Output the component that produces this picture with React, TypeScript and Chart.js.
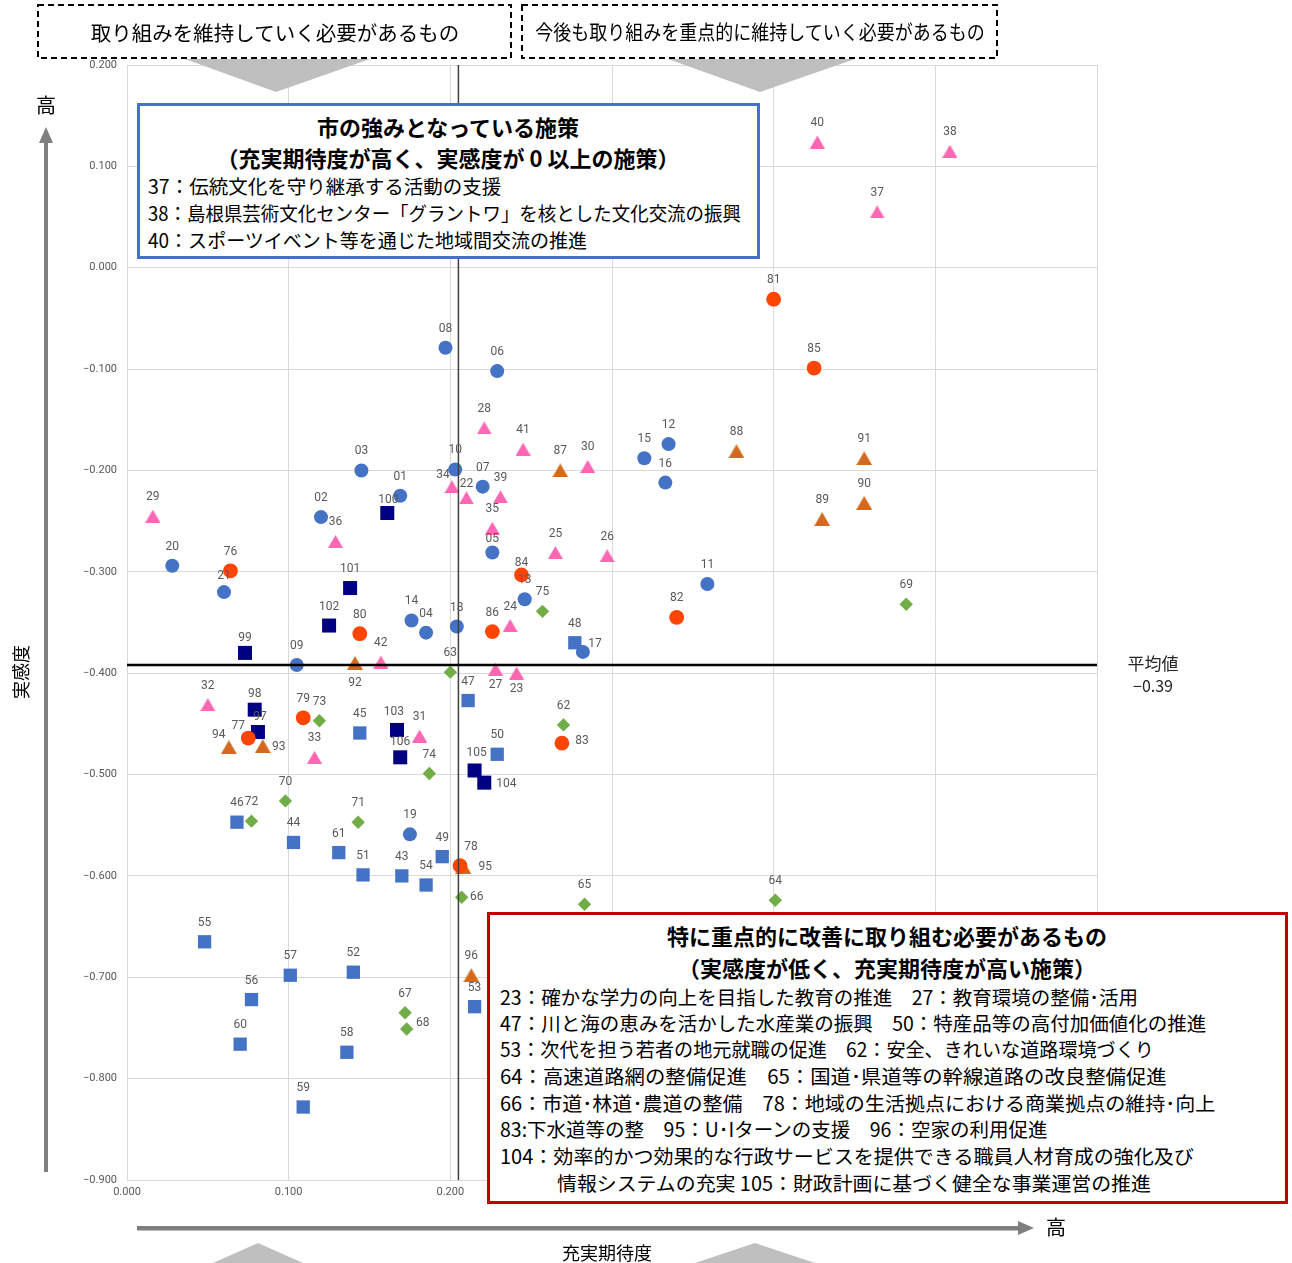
import React, { useEffect, useLayoutEffect, useRef } from 'react';
import { Chart, registerables } from 'chart.js';

Chart.register(...registerables);

// ---------- data ----------
const blueCircleIds = ['01','02','03','04','05','06','07','08','09','10','11','12','13','14','15','16','17','18','19','20','21'];
const blueCircleX = [0.169,0.120,0.145,0.185,0.226,0.229,0.220,0.197,0.105,0.203,0.359,0.335,0.246,0.176,0.320,0.333,0.282,0.204,0.175,0.028,0.060];
const blueCircleY = [-0.225,-0.246,-0.200,-0.360,-0.281,-0.102,-0.216,-0.079,-0.392,-0.199,-0.312,-0.174,-0.327,-0.348,-0.188,-0.212,-0.379,-0.354,-0.559,-0.294,-0.320];

const pinkTriIds = ['22','23','24','25','26','27','28','29','30','31','32','33','34','35','36','37','38','39','40','41','42'];
const pinkTriX = [0.210,0.241,0.237,0.265,0.297,0.228,0.221,0.016,0.285,0.181,0.050,0.116,0.201,0.226,0.129,0.464,0.509,0.231,0.427,0.245,0.157];
const pinkTriY = [-0.227,-0.400,-0.353,-0.281,-0.284,-0.396,-0.158,-0.245,-0.196,-0.462,-0.431,-0.483,-0.216,-0.257,-0.270,0.055,0.115,-0.226,0.124,-0.179,-0.389];

const blueSqIds = ['43','44','45','46','47','48','49','50','51','52','53','54','55','56','57','58','59','60','61'];
const blueSqX = [0.170,0.103,0.144,0.068,0.211,0.277,0.195,0.229,0.146,0.140,0.215,0.185,0.048,0.077,0.101,0.136,0.109,0.070,0.131];
const blueSqY = [-0.600,-0.567,-0.459,-0.547,-0.427,-0.370,-0.581,-0.480,-0.599,-0.695,-0.729,-0.609,-0.665,-0.722,-0.698,-0.774,-0.828,-0.766,-0.577];

const greenDiaIds = ['62','63','64','65','66','67','68','69','70','71','72','73','74','75'];
const greenDiaX = [0.270,0.200,0.401,0.283,0.207,0.172,0.173,0.482,0.098,0.143,0.077,0.119,0.187,0.257];
const greenDiaY = [-0.451,-0.399,-0.624,-0.628,-0.621,-0.735,-0.751,-0.332,-0.526,-0.547,-0.546,-0.447,-0.499,-0.339];

const redCircleIds = ['76','77','78','79','80','81','82','83','84','85','86'];
const redCircleX = [0.064,0.075,0.206,0.109,0.144,0.400,0.340,0.269,0.244,0.425,0.226];
const redCircleY = [-0.299,-0.464,-0.590,-0.444,-0.361,-0.031,-0.345,-0.469,-0.303,-0.099,-0.359];

const orangeTriIds = ['87','88','89','90','91','92','93','94','95','96'];
const orangeTriX = [0.268,0.377,0.430,0.456,0.456,0.141,0.084,0.063,0.208,0.213];
const orangeTriY = [-0.200,-0.181,-0.248,-0.232,-0.188,-0.390,-0.472,-0.473,-0.591,-0.698];

const navySqIds = ['97','98','99','100','101','102','103','104','105','106'];
const navySqX = [0.081,0.079,0.073,0.161,0.138,0.125,0.167,0.221,0.215,0.169];
const navySqY = [-0.458,-0.436,-0.380,-0.242,-0.316,-0.353,-0.456,-0.508,-0.496,-0.483];

const meanX = 0.205;
const meanY = -0.392;
const meanLabel = ['平均値', '−0.39'];

const xMin = 0, xMax = 0.6, yMin = -0.9, yMax = 0.2, tickStep = 0.1;

// label offsets (px) relative to the marker: [dx, dy]
const labelOffsets: Record<string, [number, number]> = {
  '34': [-9, -12], '22': [0, -14], '100': [1, -13], '84': [0, -12], '05': [0, -14], '21': [0, -16],
  '92': [0, 20], '27': [0, 16], '23': [0, 16], '17': [12, -8], '93': [16, 1], '94': [-10, -12],
  '77': [-10, -12], '97': [2, -15], '106': [0, -15], '103': [-3, -18], '83': [20, -2], '104': [22, 1],
  '105': [2, -17], '95': [22, 0], '78': [11, -19], '66': [15, 0], '68': [16, -6], '98': [0, -16], '99': [0, -15],
};
const defaultLabelDy = -19;

const JP = '"Noto Sans CJK JP", "Noto Sans", sans-serif';
const NUM = '"Liberation Sans Narrow", Roboto, "DejaVu Sans", sans-serif';

function pts(xs: number[], ys: number[]) {
  return xs.map((x, i) => ({ x, y: ys[i] }));
}

function makeTriangle(color: string, w: number, h: number) {
  const c = document.createElement('canvas');
  c.width = w;
  c.height = h;
  const g = c.getContext('2d')!;
  g.fillStyle = color;
  g.beginPath();
  g.moveTo(w / 2, 0);
  g.lineTo(w, h);
  g.lineTo(0, h);
  g.closePath();
  g.fill();
  return c;
}

const groups: any[] = [
  { ids: blueCircleIds, xs: blueCircleX, ys: blueCircleY, color: '#4472C4', style: 'circle', r: 7 },
  { ids: pinkTriIds, xs: pinkTriX, ys: pinkTriY, color: '#FF66B3', style: 'tri', w: 15, h: 13, r: 8 },
  { ids: blueSqIds, xs: blueSqX, ys: blueSqY, color: '#4472C4', style: 'rect', r: 9.4 },
  { ids: greenDiaIds, xs: greenDiaX, ys: greenDiaY, color: '#70AD47', style: 'rectRot', r: 6.7 },
  { ids: redCircleIds, xs: redCircleX, ys: redCircleY, color: '#FF4500', style: 'circle', r: 7.4 },
  { ids: orangeTriIds, xs: orangeTriX, ys: orangeTriY, color: '#D2691E', style: 'tri', w: 16, h: 14, r: 8 },
  { ids: navySqIds, xs: navySqX, ys: navySqY, color: '#000080', style: 'rect', r: 9.9 },
];

const drawPlugin = {
  id: 'custom-draw',
  afterDatasetsDraw(chart: any) {
    const ctx = chart.ctx;
    const xs = chart.scales.x, ys = chart.scales.y;
    const area = chart.chartArea;
    ctx.save();
    const mx = xs.getPixelForValue(meanX);
    const my = ys.getPixelForValue(meanY);
    ctx.strokeStyle = '#404040';
    ctx.lineWidth = 1.5;
    ctx.beginPath();
    ctx.moveTo(mx, area.top);
    ctx.lineTo(mx, area.bottom);
    ctx.stroke();
    ctx.strokeStyle = '#000000';
    ctx.lineWidth = 2.5;
    ctx.beginPath();
    ctx.moveTo(area.left, my);
    ctx.lineTo(area.right, my);
    ctx.stroke();
    ctx.font = '12px ' + NUM;
    ctx.fillStyle = '#595959';
    ctx.textAlign = 'center';
    ctx.textBaseline = 'middle';
    groups.forEach((g, di) => {
      const meta = chart.getDatasetMeta(di);
      meta.data.forEach((el: any, i: number) => {
        const id = g.ids[i];
        const off = labelOffsets[id] || [0, defaultLabelDy];
        ctx.fillText(id, el.x + off[0], el.y + off[1]);
      });
    });
    ctx.restore();
  },
  afterDraw(chart: any) {
    const ctx = chart.ctx;
    ctx.save();
    ctx.strokeStyle = '#000';
    ctx.lineWidth = 2;
    ctx.setLineDash([6, 4]);
    ctx.strokeRect(38, 5, 473, 53);
    ctx.strokeRect(522, 5, 475, 53);
    ctx.setLineDash([]);
    ctx.fillStyle = '#BFBFBF';
    const tri = (a: number[], b: number[], c: number[]) => {
      ctx.beginPath();
      ctx.moveTo(a[0], a[1]);
      ctx.lineTo(b[0], b[1]);
      ctx.lineTo(c[0], c[1]);
      ctx.closePath();
      ctx.fill();
    };
    tri([185, 59], [370, 59], [276, 92]);
    tri([668, 59], [855, 59], [760, 92]);
    tri([213, 1263], [303, 1263], [258, 1243]);
    tri([695, 1263], [815, 1263], [755, 1243]);
    ctx.fillStyle = '#7F7F7F';
    ctx.fillRect(44, 141, 4, 1031);
    tri([46, 127], [39, 143], [53, 143]);
    ctx.fillRect(137, 1226, 884, 4.5);
    tri([1034, 1228], [1018, 1221], [1018, 1235]);
    ctx.restore();
  },
};

const T = ({ x, y, size, bold, children, align = 'center', color = '#000', rotate, sx }: any) => (
  <div
    style={{
      position: 'absolute',
      left: x,
      top: y,
      transformOrigin: align === 'center' ? '50% 50%' : '0 50%',
      transform:
        (align === 'center' ? 'translate(-50%,-50%)' : 'translate(0,-50%)') +
        (rotate ? ` rotate(${rotate}deg)` : '') +
        (sx ? ` scaleX(${sx})` : ''),
      fontSize: size,
      fontWeight: bold ? 700 : 400,
      whiteSpace: 'nowrap',
      lineHeight: 1,
      fontFamily: JP,
      color,
    }}
  >
    {children}
  </div>
);

export default function App() {
  const canvasRef = useRef<HTMLCanvasElement | null>(null);

  useLayoutEffect(() => {
    document.body.style.margin = '0';
  }, []);

  useEffect(() => {
    const canvas = canvasRef.current;
    if (!canvas) return;
    const chart = new Chart(canvas, {
      type: 'scatter',
      data: {
        datasets: groups.map((g) => ({
          data: pts(g.xs, g.ys),
          pointStyle: (g.style === 'tri' ? makeTriangle(g.color, g.w, g.h) : g.style) as any,
          pointRadius: g.r,
          pointHoverRadius: g.r,
          backgroundColor: g.color,
          borderColor: g.color,
          borderWidth: 0,
        })),
      },
      options: {
        responsive: false,
        animation: false,
        devicePixelRatio: 1,
        layout: { padding: { left: 0, top: 65, right: 195, bottom: 0 } },
        plugins: { legend: { display: false }, tooltip: { enabled: false } },
        scales: {
          x: {
            type: 'linear',
            min: xMin,
            max: xMax,
            ticks: {
              stepSize: tickStep,
              padding: 6,
              color: '#595959',
              font: { size: 11, family: NUM },
              callback: (v: any) => Number(v).toFixed(3),
            },
            grid: { color: '#D9D9D9', lineWidth: 1, drawTicks: false },
            border: { color: '#D9D9D9' },
            afterFit: (s: any) => { s.height = 83; },
          },
          y: {
            type: 'linear',
            min: yMin,
            max: yMax,
            ticks: {
              stepSize: tickStep,
              padding: 10,
              color: '#595959',
              font: { size: 11, family: NUM },
              callback: (v: any) => {
                const n = Math.round(Number(v) * 1000) / 1000;
                return n < 0 ? '−' + Math.abs(n).toFixed(3) : n.toFixed(3);
              },
            },
            grid: { color: '#D9D9D9', lineWidth: 1, drawTicks: false },
            border: { color: '#D9D9D9' },
            afterFit: (s: any) => { s.width = 127; },
          },
        },
      },
      plugins: [drawPlugin],
    });
    return () => chart.destroy();
  }, []);

  const boxItem = 19.5;
  const redItem = 19.5;

  return (
    <div style={{ position: 'relative', width: 1292, height: 1263, overflow: 'hidden', background: '#fff' }}>
      <canvas ref={canvasRef} width={1292} height={1263} style={{ position: 'absolute', left: 0, top: 0 }} />

      <T x={275} y={32} size={20.5}>取り組みを維持していく必要があるもの</T>
      <T x={760} y={32} size={20} sx={0.9}>今後も取り組みを重点的に維持していく必要があるもの</T>

      <T x={46} y={105} size={20}>高</T>
      <T x={20} y={672} size={18} rotate={-90}>実感度</T>
      <T x={1056} y={1227} size={20}>高</T>
      <T x={607} y={1252} size={18}>充実期待度</T>

      <T x={1153} y={662} size={17} color="#262626">{meanLabel[0]}</T>
      <T x={1153} y={685} size={16} color="#262626">{meanLabel[1]}</T>

      <div style={{ position: 'absolute', left: 137, top: 103, width: 623, height: 156, border: '3px solid #4472C4', boxSizing: 'border-box', background: '#fff' }} />
      <T x={448} y={126} size={22} bold>市の強みとなっている施策</T>
      <T x={448} y={157} size={22} bold>（充実期待度が高く、実感度が 0 以上の施策）</T>
      <T x={148} y={186} size={boxItem} align="left">37：伝統文化を守り継承する活動の支援</T>
      <T x={148} y={213} size={boxItem} align="left" sx={0.947}>38：島根県芸術文化センター「グラントワ」を核とした文化交流の振興</T>
      <T x={148} y={240} size={boxItem} align="left" sx={0.975}>40：スポーツイベント等を通じた地域間交流の推進</T>

      <div style={{ position: 'absolute', left: 487, top: 912, width: 801, height: 292, border: '3px solid #C00000', boxSizing: 'border-box', background: '#fff' }} />
      <T x={887} y={935} size={22} bold>特に重点的に改善に取り組む必要があるもの</T>
      <T x={887} y={967} size={22} bold>（実感度が低く、充実期待度が高い施策）</T>
      <T x={500} y={997} size={redItem} align="left">23：確かな学力の向上を目指した教育の推進　27：教育環境の整備･活用</T>
      <T x={500} y={1023} size={redItem} align="left">47：川と海の恵みを活かした水産業の振興　50：特産品等の高付加価値化の推進</T>
      <T x={500} y={1049} size={redItem} align="left" sx={0.98}>53：次代を担う若者の地元就職の促進　62：安全、きれいな道路環境づくり</T>
      <T x={500} y={1076} size={redItem} align="left" sx={1.045}>64：高速道路網の整備促進　65：国道･県道等の幹線道路の改良整備促進</T>
      <T x={500} y={1103} size={redItem} align="left" sx={1.027}>66：市道･林道･農道の整備　78：地域の生活拠点における商業拠点の維持･向上</T>
      <T x={500} y={1129} size={redItem} align="left">83:下水道等の整　95：U･Iターンの支援　96：空家の利用促進</T>
      <T x={500} y={1156} size={redItem} align="left" sx={1.027}>104：効率的かつ効果的な行政サービスを提供できる職員人材育成の強化及び</T>
      <T x={557} y={1183} size={redItem} align="left" sx={1.02}>情報システムの充実 105：財政計画に基づく健全な事業運営の推進</T>
    </div>
  );
}
